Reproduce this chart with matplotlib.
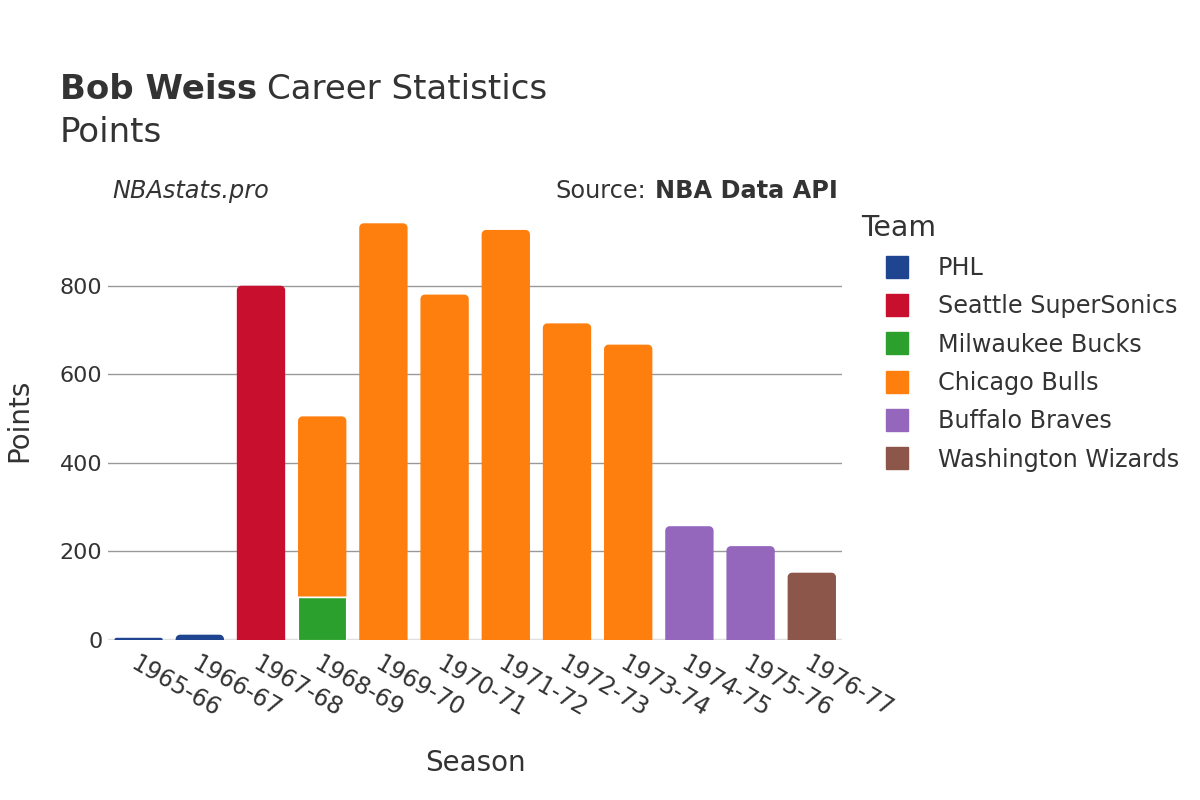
import matplotlib
matplotlib.use("Agg")
import numpy as np
import matplotlib.pyplot as plt
from matplotlib.lines import Line2D
from matplotlib.patches import PathPatch
from matplotlib.path import Path

seasons = ["1965-66", "1966-67", "1967-68", "1968-69", "1969-70", "1970-71",
           "1971-72", "1972-73", "1973-74", "1974-75", "1975-76", "1976-77"]
teams = ["PHL", "Seattle SuperSonics", "Milwaukee Bucks", "Chicago Bulls",
         "Buffalo Braves", "Washington Wizards"]
colors = ["#1f4591", "#c8102e", "#2ca02c", "#ff7f0e", "#9467bd", "#8c564b"]
# points per team per season (0 = did not play for that team)
phl = [5, 12, 0, 0, 0, 0, 0, 0, 0, 0, 0, 0]
sea = [0, 0, 800, 0, 0, 0, 0, 0, 0, 0, 0, 0]
mil = [0, 0, 0, 98, 0, 0, 0, 0, 0, 0, 0, 0]
chi = [0, 0, 0, 407, 941, 780, 926, 715, 667, 0, 0, 0]
buf = [0, 0, 0, 0, 0, 0, 0, 0, 0, 257, 212, 0]
was = [0, 0, 0, 0, 0, 0, 0, 0, 0, 0, 0, 152]
series = [phl, sea, mil, chi, buf, was]

text_col = "#333333"
fig = plt.figure(figsize=(12, 8), dpi=100)
AX = [0.09, 0.2, 0.612, 0.548]
ax = fig.add_axes(AX)

YMAX = 990
ax.set_xlim(-0.5, len(seasons) - 0.5)
ax.set_ylim(0, YMAX)

x = list(range(len(seasons)))
totals = [sum(s[i] for s in series) for i in x]
bottom = [0] * len(seasons)
bar_patches = []
for vals, col in zip(series, colors):
    xs = [xi for xi, v in zip(x, vals) if v > 0]
    hs = [v for v in vals if v > 0]
    bs = [b for b, v in zip(bottom, vals) if v > 0]
    bars = ax.bar(xs, hs, bottom=bs, width=0.79, color=col, edgecolor="white",
                  linewidth=0.8, zorder=3)
    for xi, p in zip(xs, bars.patches):
        bar_patches.append((xi, p, col))
    bottom = [b + v for b, v in zip(bottom, vals)]

# round the top corners of the topmost segment of each stack
x_per_px = len(seasons) / (AX[2] * 1200)
y_per_px = YMAX / (AX[3] * 800)
r_px = 4.5
for xi, p, col in bar_patches:
    x0, y0 = p.get_x(), p.get_y()
    w, h = p.get_width(), p.get_height()
    if abs(y0 + h - totals[xi]) > 1e-9:
        continue
    rp = min(r_px, h / y_per_px)
    rx, ry = rp * x_per_px, rp * y_per_px
    t = np.linspace(0, np.pi / 2, 12)
    top = y0 + h
    # right corner: from (x0+w, top-ry) to (x0+w-rx, top)
    rc = [(x0 + w - rx + rx * np.cos(a), top - ry + ry * np.sin(a)) for a in t]
    lc = [(x0 + rx - rx * np.cos(a), top - ry + ry * np.sin(a)) for a in t[::-1]]
    verts = [(x0, y0), (x0 + w, y0)] + rc + lc + [(x0, y0)]
    codes = [Path.MOVETO] + [Path.LINETO] * (len(verts) - 2) + [Path.CLOSEPOLY]
    p.set_visible(False)
    ax.add_patch(PathPatch(Path(verts, codes), facecolor=col,
                           edgecolor="none", zorder=3))
    if y0 > 0:
        ax.plot([x0, x0 + w], [y0, y0], color="white", lw=1, zorder=4)

ax.set_yticks([0, 200, 400, 600, 800])
ax.grid(axis="y", color="#999999", linewidth=1, zorder=0)
ax.axhline(0, color="#e0e0e0", linewidth=2.5, zorder=2)
for s in ax.spines.values():
    s.set_visible(False)
ax.tick_params(axis="y", length=0, labelsize=16, colors=text_col, pad=4)
ax.tick_params(axis="x", length=0, labelsize=17, colors=text_col, pad=8)
ax.set_xticks(x)
ax.set_xticklabels(seasons, rotation=-30, ha="left", va="top",
                   rotation_mode="anchor")
ax.set_xlabel("Season", fontsize=20, color=text_col, labelpad=20)
ax.set_ylabel("Points", fontsize=20, color=text_col, labelpad=19)

bt = fig.text(0.05, 0.876, "Bob Weiss", fontsize=24.5, color=text_col,
              fontweight="bold", va="baseline", ha="left")
fig.canvas.draw()
r = fig.canvas.get_renderer()
bb = bt.get_window_extent(r)
fig.text(bb.x1 / 1200 + 0.008, 0.876, "Career Statistics", fontsize=24.5,
         color=text_col, va="baseline", ha="left")
fig.text(0.05, 0.823, "Points", fontsize=24.5, color=text_col,
         va="baseline", ha="left")

fig.text(0.094, 0.753, "NBAstats.pro", fontsize=17.3, style="italic",
         color=text_col, va="baseline", ha="left")
src = fig.text(0.698, 0.753, "NBA Data API", fontsize=17.3, fontweight="bold",
               color=text_col, va="baseline", ha="right")
fig.canvas.draw()
bb2 = src.get_window_extent(fig.canvas.get_renderer())
fig.text(bb2.x0 / 1200 - 0.007, 0.753, "Source:", fontsize=17.3,
         color=text_col, va="baseline", ha="right")

handles = [Line2D([0], [0], marker="s", linestyle="none", markersize=16.5,
                  markerfacecolor=c, markeredgecolor=c) for c in colors]
leg = fig.legend(handles, teams, loc="upper left",
                 bbox_to_anchor=(0.7097, 0.745), frameon=False,
                 title="Team", fontsize=17.2, title_fontsize=20.4,
                 alignment="left", labelspacing=0.6, handlelength=3.0,
                 handletextpad=0.2, borderaxespad=0)
for t in leg.get_texts():
    t.set_color(text_col)
leg.get_title().set_color(text_col)

fig.savefig("out.png", dpi=100, facecolor="white")
